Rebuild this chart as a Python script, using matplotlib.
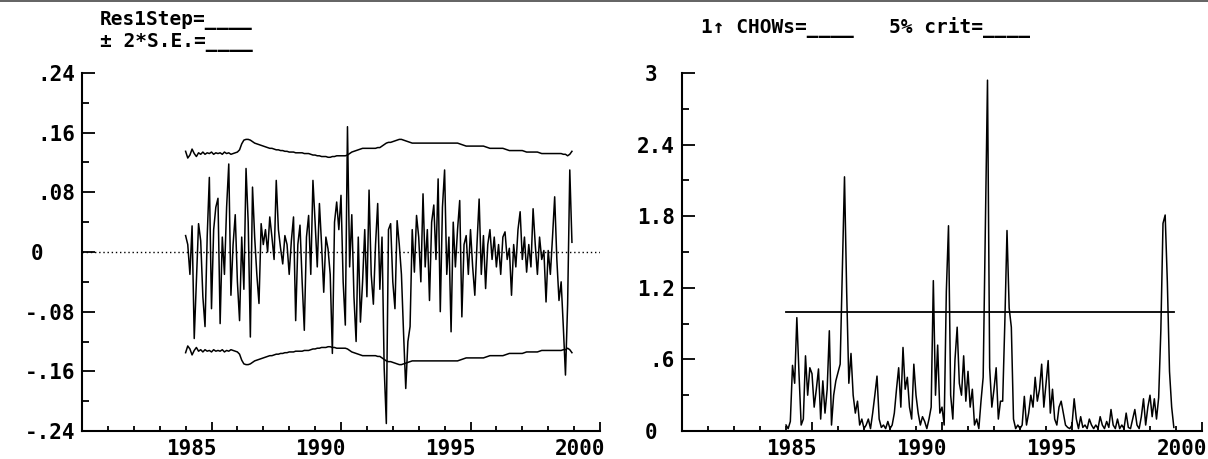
import numpy as np
import matplotlib
matplotlib.use("Agg")
import matplotlib.pyplot as plt
import matplotlib.transforms as mtransforms
from matplotlib.ticker import MultipleLocator

# monthly sample, Jan 1984 - Dec 1998
start_year = 1984

# 1-step residuals
resid = [
    0.022, 0.010, -0.030, 0.035, -0.116, -0.040, 0.038, 0.015, -0.060, -0.100, 0.020, 0.100,
    -0.076, 0.030, 0.060, 0.072, -0.096, 0.020, -0.030, 0.060, 0.118, -0.058, 0.010, 0.050,
    -0.040, -0.092, 0.020, -0.050, 0.112, 0.040, -0.114, 0.087, 0.020, -0.030, -0.069, 0.038,
    0.010, 0.030, 0.000, 0.047, 0.020, -0.010, 0.096, 0.030, 0.005, -0.016, 0.022, 0.010,
    -0.030, 0.015, 0.047, -0.092, 0.010, 0.036, -0.040, -0.105, 0.020, 0.049, -0.030, 0.096,
    0.040, -0.020, 0.065, 0.010, -0.054, 0.020, 0.004, -0.030, -0.136, 0.040, 0.067, 0.030,
    0.076, -0.040, -0.098, 0.168, -0.020, 0.050, -0.060, -0.120, 0.020, -0.094, -0.040, 0.030,
    -0.060, 0.083, -0.030, -0.070, 0.010, 0.065, -0.050, 0.020, -0.155, -0.230, 0.030, 0.038,
    -0.040, -0.076, 0.042, 0.010, -0.030, -0.110, -0.183, -0.120, -0.100, 0.030, -0.027, 0.049,
    0.020, -0.040, 0.078, -0.020, 0.030, -0.065, 0.040, 0.063, -0.010, 0.098, -0.080, 0.060,
    0.110, -0.030, 0.020, -0.107, 0.040, -0.020, 0.030, 0.069, -0.087, 0.010, 0.022, -0.030,
    0.030, -0.020, -0.058, 0.010, 0.071, -0.030, 0.022, -0.049, 0.010, 0.030, -0.010, 0.020,
    -0.020, 0.010, -0.030, 0.020, 0.027, -0.010, 0.005, -0.058, 0.010, -0.020, 0.030, 0.054,
    -0.010, 0.020, -0.027, 0.010, -0.020, 0.058, 0.010, -0.030, 0.020, -0.010, 0.002, -0.067,
    0.002, -0.030, 0.020, 0.074, -0.010, -0.065, -0.040, -0.100, -0.165, -0.070, 0.110, 0.013,
]

# 2 * standard error bands
se2 = [
    0.135, 0.126, 0.130, 0.138, 0.132, 0.128, 0.133, 0.131, 0.134, 0.131, 0.133, 0.132,
    0.134, 0.131, 0.133, 0.132, 0.133, 0.131, 0.134, 0.132, 0.133, 0.131, 0.132, 0.133,
    0.134, 0.137, 0.145, 0.150, 0.151, 0.151, 0.150, 0.148, 0.146, 0.145, 0.144, 0.143,
    0.142, 0.141, 0.140, 0.139, 0.139, 0.138, 0.137, 0.137, 0.136, 0.136, 0.135, 0.135,
    0.134, 0.134, 0.134, 0.133, 0.133, 0.133, 0.133, 0.132, 0.132, 0.132, 0.131, 0.130,
    0.130, 0.129, 0.129, 0.128, 0.128, 0.128, 0.127, 0.127, 0.128, 0.128, 0.129, 0.129,
    0.129, 0.129, 0.129, 0.130, 0.132, 0.134, 0.135, 0.136, 0.137, 0.138, 0.139, 0.139,
    0.139, 0.139, 0.139, 0.139, 0.139, 0.140, 0.140, 0.142, 0.144, 0.146, 0.147, 0.147,
    0.148, 0.149, 0.150, 0.151, 0.151, 0.150, 0.149, 0.148, 0.147, 0.146, 0.146, 0.146,
    0.146, 0.146, 0.146, 0.146, 0.146, 0.146, 0.146, 0.146, 0.146, 0.146, 0.146, 0.146,
    0.146, 0.146, 0.146, 0.146, 0.146, 0.146, 0.146, 0.145, 0.144, 0.143, 0.142, 0.142,
    0.142, 0.142, 0.142, 0.142, 0.142, 0.142, 0.142, 0.141, 0.140, 0.139, 0.139, 0.139,
    0.139, 0.139, 0.139, 0.139, 0.138, 0.137, 0.136, 0.136, 0.136, 0.136, 0.136, 0.136,
    0.136, 0.135, 0.134, 0.134, 0.134, 0.134, 0.134, 0.134, 0.133, 0.132, 0.132, 0.132,
    0.132, 0.132, 0.132, 0.132, 0.132, 0.132, 0.132, 0.131, 0.131, 0.129, 0.131, 0.135,
]

# 1-step Chow tests, scaled by 5% critical value
chow = [
    0.05, 0.02, 0.08, 0.55, 0.40, 0.95, 0.48, 0.05, 0.10, 0.63, 0.30, 0.53,
    0.48, 0.20, 0.35, 0.52, 0.10, 0.42, 0.15, 0.35, 0.84, 0.05, 0.30, 0.42,
    0.49, 0.56, 1.35, 2.13, 1.17, 0.40, 0.65, 0.30, 0.15, 0.25, 0.05, 0.10,
    0.02, 0.05, 0.10, 0.02, 0.15, 0.30, 0.46, 0.10, 0.03, 0.05, 0.02, 0.08,
    0.02, 0.05, 0.15, 0.35, 0.53, 0.20, 0.70, 0.35, 0.45, 0.20, 0.10, 0.56,
    0.30, 0.15, 0.05, 0.12, 0.08, 0.02, 0.10, 0.20, 1.26, 0.30, 0.72, 0.15,
    0.20, 0.05, 1.17, 1.72, 0.30, 0.10, 0.60, 0.87, 0.40, 0.30, 0.63, 0.25,
    0.50, 0.20, 0.35, 0.05, 0.10, 0.02, 0.25, 0.45, 1.68, 2.94, 0.53, 0.20,
    0.35, 0.53, 0.10, 0.25, 0.25, 0.91, 1.68, 1.03, 0.87, 0.10, 0.02, 0.05,
    0.02, 0.05, 0.29, 0.05, 0.15, 0.30, 0.20, 0.45, 0.25, 0.35, 0.56, 0.20,
    0.40, 0.59, 0.15, 0.35, 0.10, 0.05, 0.20, 0.25, 0.15, 0.05, 0.03, 0.02,
    0.05, 0.27, 0.10, 0.02, 0.12, 0.03, 0.05, 0.02, 0.10, 0.05, 0.02, 0.05,
    0.02, 0.12, 0.05, 0.02, 0.08, 0.03, 0.18, 0.05, 0.02, 0.10, 0.02, 0.05,
    0.02, 0.15, 0.03, 0.02, 0.10, 0.18, 0.05, 0.02, 0.12, 0.27, 0.05, 0.20,
    0.30, 0.12, 0.27, 0.10, 0.28, 0.84, 1.74, 1.81, 1.25, 0.50, 0.20, 0.03,
]
crit = 1.0

xticks = [1985, 1990, 1995, 2000]
xlabels = ["1985", "1990", "1995", "2000"]
yticks_res = [-0.24, -0.16, -0.08, 0, 0.08, 0.16, 0.24]
ylabels_res = ["-.24", "-.16", "-.08", "0", ".08", ".16", ".24"]
yticks_chow = [0, 0.6, 1.2, 1.8, 2.4, 3]
ylabels_chow = ["0", ".6", "1.2", "1.8", "2.4", "3"]

dates = start_year + np.arange(len(resid)) / 12
se2 = np.array(se2)

plt.rcParams["font.family"] = ["DejaVu Sans Mono"]
plt.rcParams["font.weight"] = "bold"
plt.rcParams["font.size"] = 15

W, H = 1208, 459
fig = plt.figure(figsize=(W / 100, H / 100), dpi=100)
ax1 = fig.add_axes([82 / W, 28 / H, 518 / W, 358 / H])
ax2 = fig.add_axes([682 / W, 28 / H, 520 / W, 358 / H])


def style(ax, yticks, ylabels, ystep, zero_shift):
    for s in ["top", "right"]:
        ax.spines[s].set_visible(False)
    for s in ["left", "bottom"]:
        ax.spines[s].set_linewidth(1.5)
    ax.set_xlim(1980, 2000)
    ax.set_xticks(xticks)
    ax.set_xticklabels(xlabels)
    ax.xaxis.set_minor_locator(MultipleLocator(1))
    ax.set_yticks(yticks)
    ax.set_yticklabels(ylabels)
    ax.yaxis.set_minor_locator(MultipleLocator(ystep))
    ax.tick_params(axis="x", which="major", direction="in", length=6.5, width=1.3, pad=6)
    ax.tick_params(axis="x", which="minor", direction="in", length=3.6, width=1.3)
    ax.tick_params(axis="y", which="major", direction="in", length=9.4, width=1.3, pad=5)
    ax.tick_params(axis="y", which="minor", direction="in", length=5, width=1.3)
    # labels sit left of their tick, as in the original
    shift = mtransforms.ScaledTranslation(5 / 100, 0, fig.dpi_scale_trans)
    for lab in ax.get_xticklabels():
        lab.set_horizontalalignment("right")
        lab.set_transform(lab.get_transform() + shift)
    for lab in ax.get_yticklabels():
        if lab.get_text() in ("0", "3"):
            lab.set_transform(lab.get_transform()
                              + mtransforms.ScaledTranslation(-zero_shift / 100, 0, fig.dpi_scale_trans))


# left panel: residuals with +/- 2 S.E.
ax1.plot(dates, resid, color="black", lw=1.1)
ax1.plot(dates, se2, color="black", lw=1.1)
ax1.plot(dates, -se2, color="black", lw=1.1)
ax1.axhline(0, color="black", lw=1.0, ls=(0, (1, 2)))
ax1.set_ylim(-0.24, 0.24)
style(ax1, yticks_res, ylabels_res, 0.04, 32)

# right panel: 1-step Chow tests
ax2.plot(dates, chow, color="black", lw=1.1)
ax2.plot([dates[0], dates[-1]], [crit, crit], color="black", lw=1.3)
ax2.set_ylim(0, 3)
style(ax2, yticks_chow, ylabels_chow, 0.3, 18)

fig.text(100 / W, 1 - 47 / H, "Res1Step=____\n± 2*S.E.=____", va="baseline",
         fontsize=14, linespacing=1.1)
fig.text(701 / W, 1 - 33 / H, "1↑ CHOWs=____   5% crit=____", va="baseline", fontsize=14)

# grey border along the top edge
fig.add_artist(plt.Rectangle((0, 1 - 2 / H), 1, 2 / H, transform=fig.transFigure,
                             color="#666666", lw=0))

fig.savefig("out.png", dpi=100)
